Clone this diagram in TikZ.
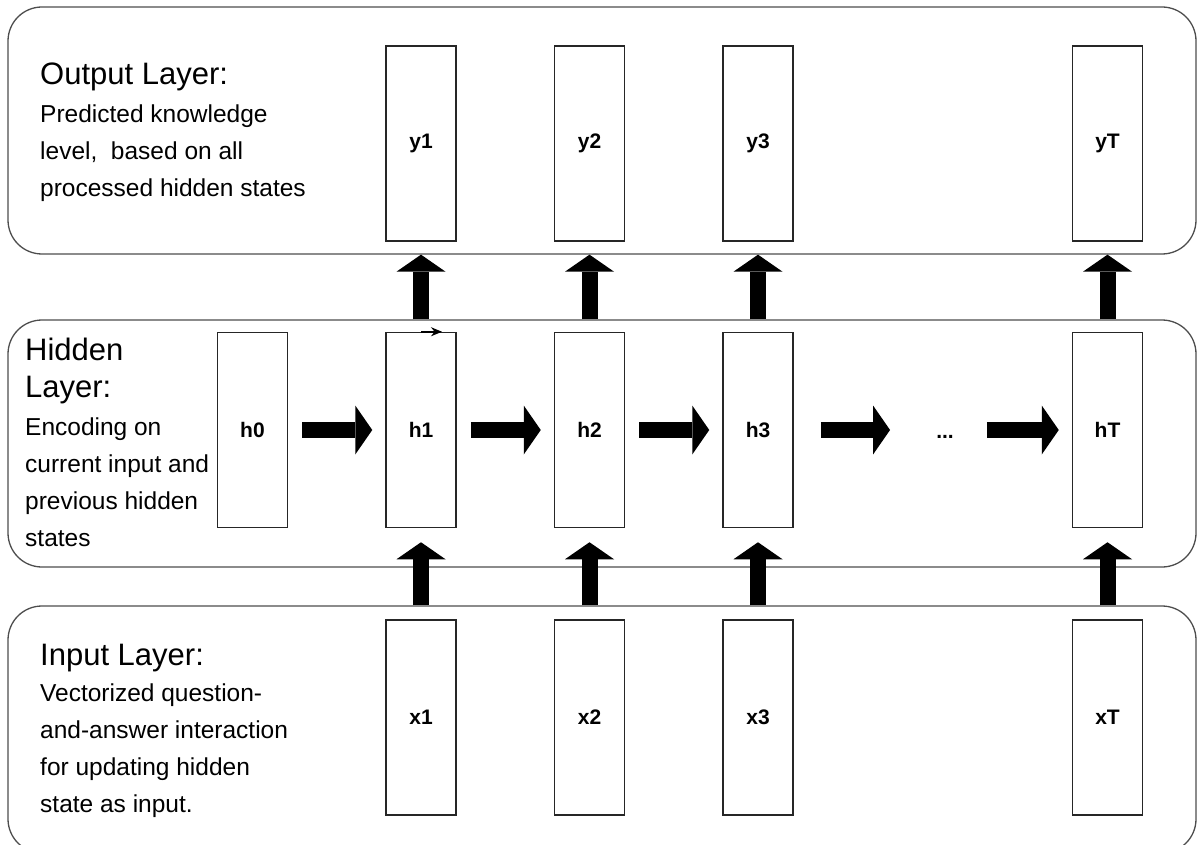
\documentclass[tikz,border=0pt]{standalone}
\usepackage{fontspec}
\setmainfont{Liberation Sans}
\usetikzlibrary{arrows.meta, positioning}
\definecolor{panelgray}{HTML}{4D4D4D}

\begin{document}
\begin{tikzpicture}[x=1pt, y=-1pt, node distance=97pt,
  layerbox/.style={rectangle, rounded corners=34pt, draw=panelgray, line width=1.3pt, minimum width=1188pt, minimum height=247pt},
  cellbox/.style={rectangle, draw=black!85, line width=1.5pt, minimum width=70pt, minimum height=195pt, font=\fontsize{21}{25}\selectfont\bfseries},
  fatarrow/.style={line width=16pt, -{Triangle[width=49pt, length=17pt, line width=0pt]}},
  headtext/.style={anchor=base west, inner sep=0pt, align=left, font=\fontsize{31}{37}\selectfont},
  bodytext/.style={anchor=base west, inner sep=0pt, align=left, font=\fontsize{24.5}{37}\selectfont}]
\useasboundingbox (0,0) rectangle (1197,845);

% the three layers
\node (outlayer) [layerbox] at (602,130.5) {};
\node (hidlayer) [layerbox] at (602,443.5) {};
\node (inlayer) [layerbox] at (602,729.5) {};

% layer captions (base = last line)
\node (outhead) [headtext] at (40,85) {Output Layer:};
\node (outbody) [bodytext] at (40,197) {Predicted knowledge\\level,~ based on all\\processed hidden states};
\node (hidhead) [headtext] at (25,397) {Hidden\\Layer:};
\node (hidbody) [bodytext] at (25,546) {Encoding on\\current input and\\previous hidden\\states};
\node (inhead) [headtext] at (40,665) {Input Layer:};
\node (inbody) [bodytext] at (40,812) {Vectorized question-\\and-answer interaction\\for updating hidden\\state as input.};

% hidden states
\node (h1) [cellbox] at (421,430) {h1};
\node (h0) [cellbox, left=of h1] {h0};
\node (h2) [cellbox, right=of h1] {h2};
\node (h3) [cellbox, right=of h2] {h3};
\node (hT) [cellbox, right=278pt of h3] {hT};
\node (dots) [inner sep=0pt, text height=16pt, text depth=0pt, font=\fontsize{21}{25}\selectfont\bfseries] at (945,430) {...};

% outputs and inputs
\foreach \i in {1,2,3,T} {
  \node (y\i) [cellbox, above=90pt of h\i] {y\i};
  \node (x\i) [cellbox, below=91pt of h\i] {x\i};
}

% connectors
\foreach \i in {1,2,3,T} {
  \draw[fatarrow] (h\i.north |- hidlayer.north) -- (y\i.south |- outlayer.south);
  \draw[fatarrow] (x\i.north |- inlayer.north) -- ([yshift=-14pt]h\i.south);
}
\foreach \a/\b in {h0/h1, h1/h2, h2/h3}
  \draw[fatarrow, shorten <=14pt, shorten >=13pt] (\a) -- (\b);
\draw[fatarrow, shorten <=27pt, shorten >=46pt] (h3) -- (dots);
\draw[fatarrow, shorten <=33pt, shorten >=13pt] (dots) -- (hT);
\draw[-{Stealth[length=11pt, width=9pt]}, line width=1.5pt] (h1.north) -- ++(21,0);

\end{tikzpicture}
\end{document}
